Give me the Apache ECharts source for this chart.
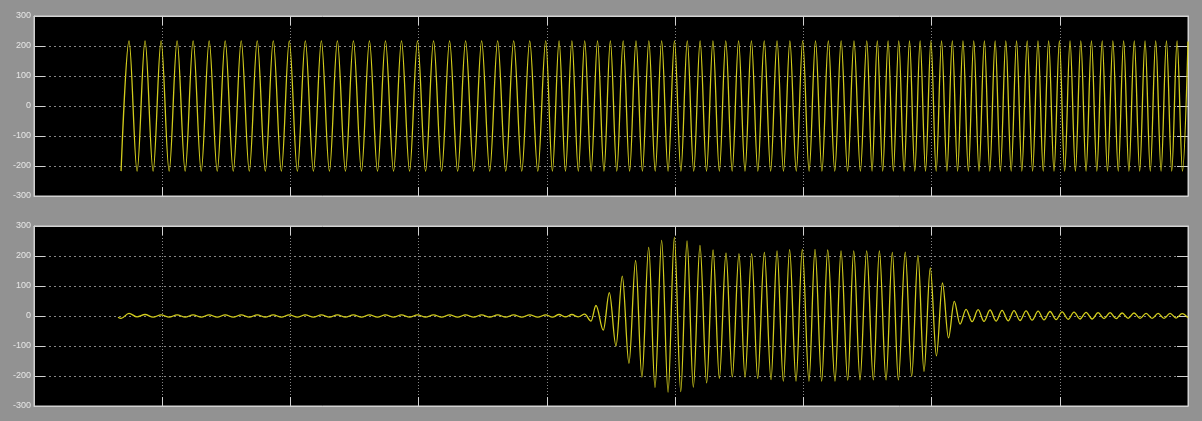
<!DOCTYPE html>
<html>
<head>
<meta charset="utf-8">
<title>Scope</title>
<script src="https://cdn.jsdelivr.net/npm/echarts@6/dist/echarts.min.js"></script>
<style>
  html, body { margin: 0; padding: 0; background: #929292; }
  #chart { width: 1202px; height: 421px; }
</style>
</head>
<body>
<div id="chart"></div>
<script>
// Y tick values shared by both scope panels
const yTicks = [-300, -200, -100, 0, 100, 200, 300];
const timeRange = [0, 9];

// Input signal: [time, amplitude] at each crest and trough
const inputWave = [
  [0.679,-217],[0.741,217],[0.804,-217],[0.866,217],[0.929,-217],[0.991,217],[1.054,-217],[1.116,217],[1.179,-217],[1.241,217],
  [1.304,-217],[1.366,217],[1.429,-217],[1.491,217],[1.554,-217],[1.616,217],[1.679,-217],[1.741,217],[1.804,-217],[1.866,217],
  [1.929,-217],[1.991,217],[2.054,-217],[2.116,217],[2.179,-217],[2.241,217],[2.304,-217],[2.366,217],[2.429,-217],[2.491,217],
  [2.554,-217],[2.616,217],[2.679,-217],[2.741,217],[2.804,-217],[2.866,217],[2.929,-217],[2.991,217],[3.054,-217],[3.116,217],
  [3.179,-217],[3.241,217],[3.304,-217],[3.366,217],[3.429,-217],[3.491,217],[3.554,-217],[3.616,217],[3.679,-217],[3.741,217],
  [3.804,-217],[3.866,217],[3.929,-217],[3.991,217],[4.043,-217],
  [4.095,217],[4.145,-217],[4.195,217],[4.245,-217],[4.295,217],[4.345,-217],[4.395,217],[4.445,-217],[4.495,217],[4.545,-217],
  [4.595,217],[4.645,-217],[4.695,217],[4.745,-217],[4.795,217],[4.845,-217],[4.895,217],[4.945,-217],[4.995,217],[5.045,-217],
  [5.095,217],[5.145,-217],[5.195,217],[5.245,-217],[5.295,217],[5.345,-217],[5.395,217],[5.445,-217],[5.495,217],[5.545,-217],
  [5.595,217],[5.645,-217],[5.695,217],[5.745,-217],[5.795,217],[5.845,-217],[5.895,217],[5.945,-217],[5.995,217],[6.045,-217],
  [6.095,217],[6.145,-217],[6.195,217],[6.245,-217],[6.295,217],[6.345,-217],[6.395,217],[6.445,-217],[6.495,217],[6.536,-217],
  [6.577,217],[6.619,-217],[6.661,217],[6.702,-217],[6.744,217],[6.786,-217],[6.828,217],[6.869,-217],[6.911,217],[6.953,-217],
  [6.995,217],[7.036,-217],[7.078,217],[7.120,-217],[7.162,217],[7.203,-217],[7.245,217],[7.287,-217],[7.329,217],[7.370,-217],
  [7.412,217],[7.454,-217],[7.496,217],[7.537,-217],[7.579,217],[7.621,-217],[7.663,217],[7.704,-217],[7.746,217],[7.788,-217],
  [7.830,217],[7.871,-217],[7.913,217],[7.955,-217],[7.997,217],[8.038,-217],[8.080,217],[8.122,-217],[8.164,217],[8.205,-217],
  [8.247,217],[8.289,-217],[8.331,217],[8.372,-217],[8.414,217],[8.456,-217],[8.498,217],[8.539,-217],[8.581,217],[8.623,-217],
  [8.665,217],[8.706,-217],[8.748,217],[8.790,-217],[8.832,217],[8.873,-217],[8.915,217],[8.957,-217],[9.000,215]
];

// Filter output: [time, amplitude] at each crest and trough
const outputWave = [
  [0.655,-4],[0.679,-8],[0.741,9],[0.804,-3],[0.866,5],[0.929,-4],[0.991,4],[1.054,-4],[1.116,4],[1.179,-4],
  [1.241,4],[1.304,-4],[1.366,4],[1.429,-4],[1.491,4],[1.554,-4],[1.616,4],[1.679,-4],[1.741,4],[1.804,-4],
  [1.866,4],[1.929,-4],[1.991,4],[2.054,-4],[2.116,4],[2.179,-4],[2.241,4],[2.304,-4],[2.366,4],[2.429,-4],
  [2.491,4],[2.554,-4],[2.616,4],[2.679,-4],[2.741,4],[2.804,-4],[2.866,4],[2.929,-4],[2.991,4],[3.054,-4],
  [3.116,4],[3.179,-4],[3.241,4],[3.304,-4],[3.366,4],[3.429,-4],[3.491,4],[3.554,-4],[3.616,4],[3.679,-4],
  [3.741,4],[3.804,-4],[3.866,4],[3.929,-4],[3.991,4],[4.043,-4],
  [4.095,5],[4.145,-3],[4.195,5],[4.245,-3],[4.295,6],[4.344,-17],[4.383,35],[4.440,-47],[4.487,78],[4.539,-100],
  [4.588,133],[4.640,-158],[4.692,185],[4.741,-204],[4.794,229],[4.843,-238],[4.895,252],[4.945,-254],[4.994,262],[5.044,-252],
  [5.093,250],[5.142,-237],[5.194,235],[5.246,-223],[5.296,220],[5.345,-208],[5.397,210],[5.446,-203],[5.498,208],[5.545,-204],
  [5.597,208],[5.644,-208],[5.696,212],[5.748,-212],[5.795,217],[5.844,-217],[5.893,221],[5.943,-217],[5.992,222],[6.044,-217],
  [6.091,222],[6.143,-217],[6.190,220],[6.247,-217],[6.294,217],[6.346,-214],[6.393,217],[6.442,-213],[6.494,217],[6.546,-213],
  [6.593,217],[6.645,-213],[6.694,212],[6.741,-213],[6.795,213],[6.845,-202],[6.894,202],[6.941,-185],[6.990,160],[7.038,-133],
  [7.085,110],[7.132,-73],[7.177,49],[7.222,-27],
  [7.269,22],[7.316,-19],[7.363,21],[7.409,-18],[7.456,20],[7.503,-17],[7.550,19],[7.597,-16],[7.643,18],[7.690,-15],
  [7.737,17],[7.784,-14],[7.831,16],[7.877,-13],[7.924,15],[7.971,-12],[8.018,14],[8.065,-11],[8.111,13],[8.158,-10],
  [8.205,12],[8.252,-10],[8.299,11],[8.345,-9],[8.392,11],[8.439,-9],[8.486,10],[8.533,-8],[8.579,10],[8.626,-8],
  [8.673,9],[8.720,-8],[8.767,9],[8.813,-8],[8.860,9],[8.907,-7],[8.954,8],[9.000,-6]
];

const chart = echarts.init(document.getElementById('chart'), null, { renderer: 'canvas' });

const frameColor = '#d2d2d2';
const traceColor = '#d2cc1c';

function panelAxes(gridIndex) {
  const xBase = {
    type: 'value', gridIndex, min: timeRange[0], max: timeRange[1], interval: 1,
    axisLine: { show: true, onZero: false, lineStyle: { color: frameColor, width: 1 } },
    axisTick: { show: true, inside: true, length: 9, lineStyle: { color: frameColor } },
    axisLabel: { show: false }
  };
  const yBase = {
    type: 'value', gridIndex, min: yTicks[0], max: yTicks[yTicks.length - 1], interval: 100,
    axisLine: { show: true, onZero: false, lineStyle: { color: frameColor, width: 1 } },
    axisTick: { show: true, inside: true, length: 11, lineStyle: { color: frameColor } }
  };
  return {
    x: [
      Object.assign({}, xBase, {
        position: 'bottom',
        splitLine: { show: true, lineStyle: { color: '#858585', width: 1, type: [1, 2] } }
      }),
      Object.assign({}, xBase, { position: 'top', splitLine: { show: false } })
    ],
    y: [
      Object.assign({}, yBase, {
        position: 'left',
        axisLabel: {
          show: true, color: '#e6e6e6', fontSize: 9, margin: 3,
          fontFamily: 'Liberation Sans, Arial, sans-serif'
        },
        splitLine: { show: true, lineStyle: { color: '#858585', width: 1, type: [2, 3] } }
      }),
      Object.assign({}, yBase, {
        position: 'right', axisLabel: { show: false }, splitLine: { show: false }
      })
    ]
  };
}

const a0 = panelAxes(0);
const a1 = panelAxes(1);

chart.setOption({
  animation: false,
  backgroundColor: '#929292',
  grid: [
    { left: 34, right: 14, top: 16, height: 180, show: true, backgroundColor: '#000', borderColor: frameColor, borderWidth: 1 },
    { left: 34, right: 14, top: 226, height: 180, show: true, backgroundColor: '#000', borderColor: frameColor, borderWidth: 1 }
  ],
  xAxis: [a0.x[0], a0.x[1], a1.x[0], a1.x[1]],
  yAxis: [a0.y[0], a0.y[1], a1.y[0], a1.y[1]],
  series: [
    {
      name: 'input', type: 'line', xAxisIndex: 0, yAxisIndex: 0,
      data: inputWave, showSymbol: false, smooth: 0.35, smoothMonotone: 'x',
      lineStyle: { color: traceColor, width: 1.3 }, silent: true
    },
    {
      name: 'output', type: 'line', xAxisIndex: 2, yAxisIndex: 2,
      data: outputWave, showSymbol: false, smooth: 0.35, smoothMonotone: 'x',
      lineStyle: { color: traceColor, width: 1.3 }, silent: true
    }
  ]
});
</script>
</body>
</html>
